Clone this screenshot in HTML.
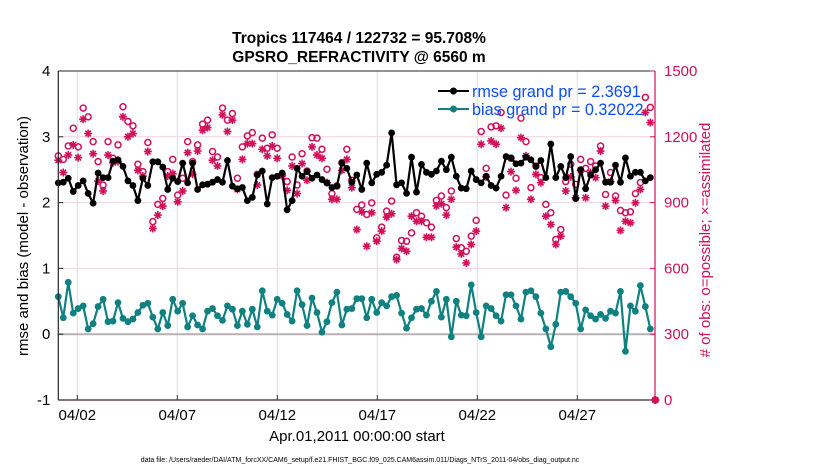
<!DOCTYPE html>
<html><head><meta charset="utf-8"><style>
body{margin:0;background:#fff;}
svg{display:block;font-family:"Liberation Sans",Arial,sans-serif;}
</style></head><body>
<svg id="chart" width="830" height="470" viewBox="0 0 830 470">
<rect width="830" height="470" fill="#fff"/>
<g id="grid"></g>
<g id="marks"></g>
<g id="axes"></g>
<text x="359" y="43" text-anchor="middle" font-size="15.5" font-weight="bold">Tropics 117464 / 122732 = 95.708%</text>
<text x="359" y="62" text-anchor="middle" font-size="15.5" font-weight="bold">GPSRO_REFRACTIVITY @ 6560 m</text>
<text x="357" y="441" text-anchor="middle" font-size="15">Apr.01,2011 00:00:00 start</text>
<text x="360" y="462" text-anchor="middle" font-size="7">data file: /Users/raeder/DAI/ATM_forcXX/CAM6_setup/f.e21.FHIST_BGC.f09_025.CAM6assim.011/Diags_NTrS_2011-04/obs_diag_output.nc</text>
<text transform="translate(28,236) rotate(-90)" text-anchor="middle" font-size="15">rmse and bias (model - observation)</text>
<text transform="translate(710,240) rotate(-90)" text-anchor="middle" font-size="15" fill="#d0105a"># of obs: o=possible; ×=assimilated</text>
<g>
<line x1="438" y1="91" x2="469" y2="91" stroke="#000" stroke-width="2"/>
<circle cx="453.5" cy="91" r="3.5" fill="#000"/>
<text x="472" y="97" font-size="16.2" fill="#0a4cff">rmse grand pr = 2.3691</text>
<line x1="438" y1="109" x2="469" y2="109" stroke="#108080" stroke-width="2"/>
<circle cx="453.5" cy="109" r="3.5" fill="#108080"/>
<text x="472" y="115" font-size="16.2" fill="#0a4cff">bias grand pr = 0.32022</text>
</g>
</svg>
<script>
const rmse=[2.30,2.31,2.37,2.17,2.26,2.33,2.14,1.99,2.45,2.38,2.38,2.63,2.65,2.55,2.33,2.26,2.03,2.37,2.26,2.62,2.62,2.54,2.20,2.37,2.32,2.60,2.30,2.60,2.20,2.27,2.28,
2.31,2.35,2.31,2.64,2.25,2.21,2.23,2.03,2.08,2.42,2.48,1.98,2.38,2.40,2.45,1.89,2.03,2.52,2.40,2.47,2.37,2.42,2.35,2.30,2.23,2.25,2.60,2.52,2.31,2.42,
2.20,2.60,2.30,2.43,2.46,2.57,3.06,2.27,2.30,2.14,2.69,2.16,2.58,2.46,2.43,2.48,2.63,2.50,2.69,2.40,2.22,2.21,2.48,2.35,2.30,2.40,2.26,2.22,2.40,2.70,
2.68,2.59,2.60,2.69,2.65,2.55,2.64,2.38,2.89,2.38,2.55,2.38,2.70,2.06,2.50,2.21,2.42,2.50,2.60,2.31,2.31,2.57,2.31,2.68,2.40,2.46,2.46,2.33,2.38];
const bias=[0.57,0.25,0.79,0.32,0.39,0.43,0.08,0.16,0.42,0.53,0.19,0.20,0.48,0.24,0.19,0.23,0.33,0.44,0.47,0.26,0.08,0.33,0.13,0.53,0.35,0.47,0.11,0.28,0.14,0.08,0.35,
0.39,0.28,0.21,0.43,0.38,0.13,0.35,0.15,0.38,0.11,0.66,0.35,0.29,0.53,0.47,0.30,0.20,0.66,0.45,0.13,0.55,0.33,0.03,0.19,0.48,0.64,0.14,0.38,0.39,0.54,
0.54,0.25,0.53,0.33,0.48,0.43,0.57,0.59,0.32,0.09,0.25,0.38,0.39,0.29,0.50,0.65,0.26,0.53,-0.04,0.50,0.29,0.28,0.75,0.33,-0.04,0.43,0.39,0.28,0.20,0.60,
0.60,0.43,0.23,0.64,0.66,0.57,0.32,0.08,-0.19,0.15,0.64,0.65,0.57,0.47,0.08,0.37,0.28,0.23,0.30,0.24,0.35,0.32,0.65,-0.26,0.43,0.35,0.74,0.42,0.08];
const obsPossible=[1113,1097,1158,1239,1154,1331,1291,1178,1087,980,1178,1102,1163,1337,1270,1250,1075,1041,1174,813,892,919,1041,1097,934,1011,1178,1087,1163,1258,1276,
1133,1108,1331,1276,1306,1011,1154,1204,1219,1029,1194,1148,1209,1148,1029,996,1108,980,1123,1044,1196,1194,1143,1052,941,976,1082,1143,1002,869,
889,846,899,739,788,861,907,651,727,724,762,854,838,808,788,910,930,877,953,736,694,678,747,819,1224,1056,1245,1250,1311,934,
1102,1011,1285,1178,968,1067,1014,892,854,732,777,996,1075,983,1097,1056,1087,1067,1158,937,1037,930,864,854,858,941,991,1380,1334,0];
const obsAssim=[1093,1037,1117,1163,1105,1280,1215,1123,998,953,1117,1082,1087,1291,1200,1215,1047,1021,1133,782,843,884,1021,1032,904,953,1128,1029,1135,1230,1242,
1093,1067,1300,1224,1276,960,1097,1169,1169,980,1143,1113,1158,1102,1021,956,1067,941,1078,1002,1154,1117,1102,991,915,915,1047,1097,968,777,
858,701,854,724,770,834,849,640,691,678,838,815,815,742,742,885,895,843,915,697,666,625,709,770,1166,1017,1181,1166,1239,877,
1041,956,1196,1113,915,1029,991,838,800,709,747,953,1017,922,1047,922,1037,1014,1135,884,996,910,773,815,808,899,960,1311,1265,0];
const xTickDays=[1,6,11,16,21,26];
const xTickLabels=["04/02","04/07","04/12","04/17","04/22","04/27"];
const yLeftTicks=[-1,0,1,2,3,4];
const yRightTicks=[0,300,600,900,1200,1500];

const NS="http://www.w3.org/2000/svg";
const L=58.3,R=655,T=71,B=400;
const xIdx=i=>L+4.975*i;
const xDay=d=>57.3+20*d;
const yL=v=>B-(v+1)*(B-T)/5;
const yR=v=>B-v*(B-T)/1500;
const PINK="#d0105a",TEAL="#108080";
function mk(tag,attrs,parent){const e=document.createElementNS(NS,tag);for(const k in attrs)e.setAttribute(k,attrs[k]);parent.appendChild(e);return e;}
const grid=document.getElementById('grid'),marks=document.getElementById('marks'),axes=document.getElementById('axes');

xTickDays.forEach((d,i)=>{
  const g=mk('line',{x1:xDay(d),x2:xDay(d),y1:T,y2:B,stroke:'#dcdcdc','stroke-width':1},grid);
  
  
  const t=mk('line',{x1:xDay(d),x2:xDay(d),y1:B,y2:B-5,stroke:'#333'},axes);
  
  
  const lb=mk('text',{x:xDay(d),y:B+20,'text-anchor':'middle','font-size':15},axes);
  lb.textContent=xTickLabels[i];
  
  
});
yRightTicks.forEach(v=>{
  if(v===0||v===1500)return;
  const g=mk('line',{x1:L,x2:R,y1:yR(v),y2:yR(v),stroke:'#f3d0dc','stroke-width':1},grid);
  
  
});
const zl=mk('line',{x1:L,x2:R,y1:yL(0),y2:yL(0),stroke:'#b8b0b4','stroke-width':2},grid);



function star(cx,cy,parent){
  const g=mk('g',{stroke:PINK,'stroke-width':1.6},parent);
  [[0,4],[4,0],[2.8,2.8],[2.8,-2.8]].forEach(([dx,dy])=>mk('line',{x1:cx-dx,y1:cy-dy,x2:cx+dx,y2:cy+dy},g));
  return g;
}
obsAssim.forEach((v,i)=>{
  const s=star(xIdx(i),yR(v),marks);
  
  
});
obsPossible.forEach((v,i)=>{
  const c=mk('circle',{cx:xIdx(i),cy:yR(v),r:3,fill:'none',stroke:PINK,'stroke-width':1.5},marks);
  
  
});
function series(arr,color,name){
  const p=mk('polyline',{points:arr.map((v,i)=>xIdx(i)+','+yL(v)).join(' '),fill:'none',stroke:color,'stroke-width':2.2,'stroke-linejoin':'round'},marks);
  
  
  arr.forEach((v,i)=>{
    const c=mk('circle',{cx:xIdx(i),cy:yL(v),r:3.4,fill:color},marks);
    
    
  });
}
series(rmse,'#000','rmse');
series(bias,TEAL,'bias');

const ax1=mk('line',{x1:L,x2:L,y1:T,y2:B,stroke:'#262626','stroke-width':1.2},axes);


const ax2=mk('line',{x1:L,x2:R,y1:B,y2:B,stroke:'#3a2026','stroke-width':1.2},axes);


const ax3=mk('line',{x1:L,x2:R,y1:T,y2:T,stroke:'#262626','stroke-width':1},axes);


const ax4=mk('line',{x1:R,x2:R,y1:T,y2:B,stroke:PINK,'stroke-width':1.2},axes);


yLeftTicks.forEach(v=>{
  const t=mk('line',{x1:L,x2:L+5,y1:yL(v),y2:yL(v),stroke:'#262626'},axes);
  
  
  const lb=mk('text',{x:L-8,y:yL(v)+5,'text-anchor':'end','font-size':15},axes);
  lb.textContent=v;
  
  
});
yRightTicks.forEach(v=>{
  const t=mk('line',{x1:R-5,x2:R,y1:yR(v),y2:yR(v),stroke:PINK},axes);
  
  
  const lb=mk('text',{x:R+9,y:yR(v)+5,'font-size':15,fill:PINK},axes);
  lb.textContent=v;
  
  
});
</script>
</body></html>
